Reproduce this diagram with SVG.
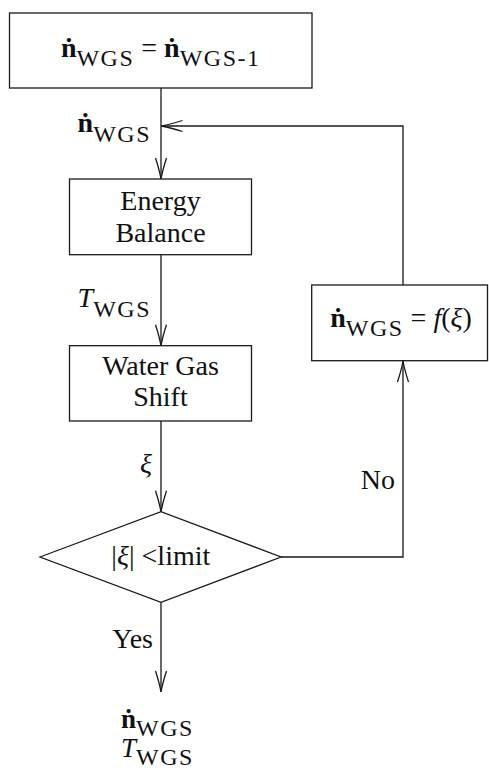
<svg xmlns="http://www.w3.org/2000/svg" width="489" height="772" viewBox="0 0 489 772">
<style>
  .box{fill:#fff;stroke:#1a1a1a;stroke-width:1.3}
  .ln{fill:none;stroke:#1a1a1a;stroke-width:1.3}
  text{font-family:"Liberation Serif","DejaVu Serif",serif;font-size:28px;fill:#111}
  .b{font-weight:bold}
  .i{font-style:italic}
  .s{font-size:24px;letter-spacing:1.5px}
  .m{text-anchor:middle}
  .e{text-anchor:end}
</style>
<defs>
  <marker id="arr" markerUnits="userSpaceOnUse" markerWidth="26" markerHeight="16" viewBox="-24 -8 26 16" refX="0" refY="0" orient="auto">
    <path d="M -21 -5.5 Q -9 -1.6 0 0 Q -9 1.6 -21 5.5" fill="none" stroke="#1a1a1a" stroke-width="1.3"/>
  </marker>
</defs>
<g id="connectors">
  <path class="ln" d="M161 88 V179" marker-end="url(#arr)"/>
  <path class="ln" d="M161 254.7 V345.7" marker-end="url(#arr)"/>
  <path class="ln" d="M161 421 V511.7" marker-end="url(#arr)"/>
  <path class="ln" d="M161 602.3 V692" marker-end="url(#arr)"/>
  <path class="ln" d="M281 557 H403 V361" marker-end="url(#arr)"/>
  <path class="ln" d="M403 285 V126 H161.5" marker-end="url(#arr)"/>
  <text class="e" x="151" y="132"><tspan class="b">ṅ</tspan><tspan class="s" dy="9.5">WGS</tspan></text>
  <text class="e" x="151" y="306.7"><tspan class="i">T</tspan><tspan class="s" dy="10">WGS</tspan></text>
  <text class="e i" x="152" y="473">ξ</text>
  <text class="e" x="395" y="489">No</text>
  <text class="e" x="153" y="648">Yes</text>
</g>
<g id="init">
  <rect class="box" x="9.5" y="13" width="302.5" height="75"/>
  <text class="m" x="160.7" y="57"><tspan class="b">ṅ</tspan><tspan class="s" dy="8.5">WGS</tspan><tspan dy="-8.5"> = </tspan><tspan class="b">ṅ</tspan><tspan class="s" dy="8.5">WGS-1</tspan></text>
</g>
<g id="energy">
  <rect class="box" x="69.5" y="179" width="182" height="75.7"/>
  <text class="m" x="160.5" y="210">Energy</text>
  <text class="m" x="160.5" y="241.7">Balance</text>
</g>
<g id="wgs">
  <rect class="box" x="69.5" y="345.7" width="182" height="75.3"/>
  <text class="m" x="160.5" y="375">Water Gas</text>
  <text class="m" x="160.5" y="406">Shift</text>
</g>
<g id="update">
  <rect class="box" x="311.7" y="285" width="175.8" height="75.7"/>
  <text class="m" x="401" y="326.7"><tspan class="b">ṅ</tspan><tspan class="s" dy="9.5">WGS</tspan><tspan dy="-9.5"> = </tspan><tspan class="i">f</tspan>(<tspan class="i">ξ</tspan>)</text>
</g>
<g id="check">
  <polygon class="box" points="40,557 161,511.7 281,557 161,602.3"/>
  <text class="m" x="160.8" y="565">|<tspan class="i">ξ</tspan>| &lt;limit</text>
</g>
<g id="output">
  <text x="121" y="728" style="font-size:27px"><tspan class="b">ṅ</tspan><tspan class="s" dy="8">WGS</tspan></text>
  <text x="121" y="757" style="font-size:27px"><tspan class="i">T</tspan><tspan class="s" dy="8">WGS</tspan></text>
</g>
</svg>
